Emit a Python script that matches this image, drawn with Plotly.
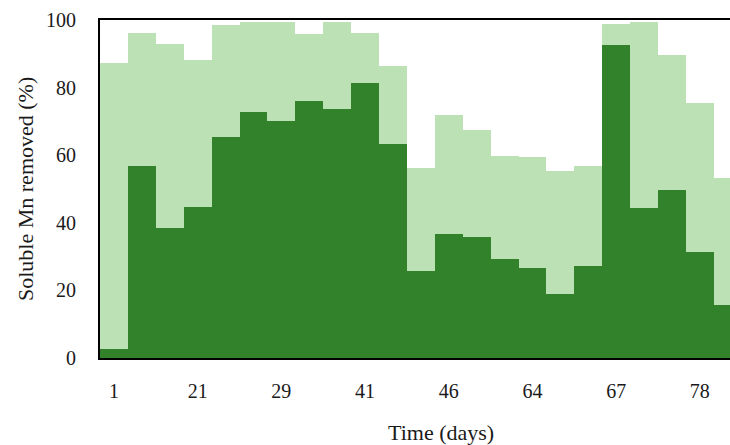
import plotly.graph_objects as go

# Data
bar_index = list(range(23))
total_removed = [87.3, 96.2, 92.9, 88.1, 98.4, 99.3, 99.3, 95.9, 99.3, 96.2, 86.3,
                 56.2, 71.8, 67.5, 59.8, 59.4, 55.3, 56.9, 98.8, 99.4, 89.5, 75.5, 53.4]
part_removed = [2.8, 56.8, 38.5, 44.8, 65.3, 72.9, 70.1, 76.1, 73.6, 81.3, 63.4,
                25.8, 36.6, 35.7, 29.2, 26.5, 18.9, 27.1, 92.7, 44.3, 49.7, 31.4, 15.6]
tick_positions = [0, 3, 6, 9, 12, 15, 18, 21]
tick_labels = ["1", "21", "29", "41", "46", "64", "67", "78"]

LIGHT = "#bce1b5"
DARK = "#32822b"
FONT = "Liberation Serif"

fig = go.Figure()
fig.add_trace(go.Bar(x=bar_index, y=total_removed, width=1.0,
                     marker=dict(color=LIGHT, line=dict(width=0)),
                     showlegend=False))
fig.add_trace(go.Bar(x=bar_index, y=part_removed, width=1.0,
                     marker=dict(color=DARK, line=dict(width=0)),
                     showlegend=False))

fig.update_layout(
    width=730, height=445,
    margin=dict(l=100, r=0, t=20, b=87),
    barmode="overlay", bargap=0,
    plot_bgcolor="white", paper_bgcolor="white",
    font=dict(family=FONT, size=20, color="#1a1a1a"),
    xaxis=dict(range=[-0.5, 22.08], tickmode="array", tickvals=tick_positions,
               ticktext=tick_labels, showline=True, linecolor="black", linewidth=2,
               mirror=True, showgrid=False, zeroline=False, ticks="outside",
               ticklen=14, tickcolor="rgba(0,0,0,0)",
               tickfont=dict(family=FONT, size=20, color="#1a1a1a")),
    yaxis=dict(range=[0, 100], tickvals=[0, 20, 40, 60, 80, 100], showline=True,
               linecolor="black", linewidth=2, showgrid=False, zeroline=False,
               ticks="outside", ticklen=18, tickcolor="rgba(0,0,0,0)",
               tickfont=dict(family=FONT, size=20, color="#1a1a1a")),
    annotations=[
        dict(text="Time (days)", xref="paper", yref="paper",
             x=(441 - 100) / 630, y=-(432 - 357.5) / 337.5, xanchor="center", yanchor="middle",
             showarrow=False, font=dict(family=FONT, size=22, color="#1a1a1a")),
        dict(text="Soluble Mn removed (%)", xref="paper", yref="paper",
             x=-(100 - 25) / 630, y=0.5, xanchor="center", yanchor="middle", textangle=-90,
             showarrow=False, font=dict(family=FONT, size=22, color="#1a1a1a")),
    ],
)

fig.write_html("out.html")
